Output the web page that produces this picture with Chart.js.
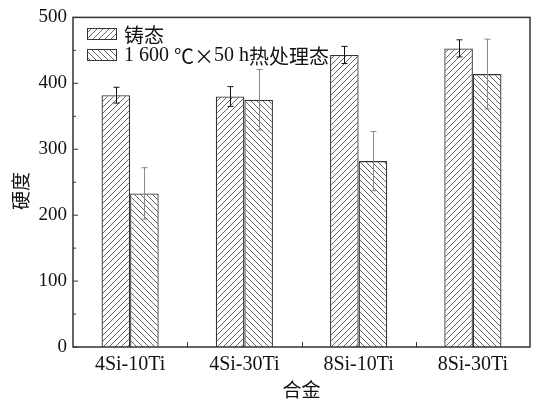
<!DOCTYPE html>
<html>
<head>
<meta charset="utf-8">
<script src="https://cdn.jsdelivr.net/npm/chart.js@4/dist/chart.umd.min.js"></script>
<style>
  html, body { margin: 0; padding: 0; background: #fff; }
  #wrap { width: 536px; height: 400px; position: relative; }
</style>
</head>
<body>
<div id="wrap"><canvas id="c" width="536" height="400"></canvas></div>
<script>
// Hardness of the alloys, as cast and after 1600 °C × 50 h heat treatment
const alloys = ['4Si-10Ti', '4Si-30Ti', '8Si-10Ti', '8Si-30Ti'];
const castHardness = [382, 380, 443, 453];
const castError = [12, 15, 13, 13];
const heatHardness = [233, 375, 282, 414];
const heatError = [39, 46, 45, 53];
const seriesNames = ['铸态', '1 600 ℃×50 h热处理态'];
const yTicks = [0, 100, 200, 300, 400, 500];
const yMinorTicks = [50, 150, 250, 350, 450];
const xTitle = '合金';
const yTitle = '硬度';

const SERIF = '"Liberation Serif", serif';
const CJK = '"Noto Sans CJK SC", sans-serif';
const FONT = '"Liberation Serif", "Noto Sans CJK SC", serif';
const EDGE = '#333';

// diagonal hatch tiles: '/' for cast, '\' for heat treated
function hatch(dir) {
  const s = 6;
  const cv = document.createElement('canvas');
  cv.width = s; cv.height = s;
  const g = cv.getContext('2d');
  g.fillStyle = '#fff';
  g.fillRect(0, 0, s, s);
  g.strokeStyle = '#555';
  g.lineWidth = 0.9;
  g.beginPath();
  if (dir === '/') {
    g.moveTo(-1, s + 1); g.lineTo(s + 1, -1);
    g.moveTo(-1, 1); g.lineTo(1, -1);
    g.moveTo(s - 1, s + 1); g.lineTo(s + 1, s - 1);
  } else {
    g.moveTo(-1, -1); g.lineTo(s + 1, s + 1);
    g.moveTo(s - 1, -1); g.lineTo(s + 1, 1);
    g.moveTo(-1, s - 1); g.lineTo(1, s + 1);
  }
  g.stroke();
  return g.createPattern(cv, 'repeat');
}
const patCast = hatch('/');
const patHeat = hatch('\\');

const errors = [castError, heatError];
const errColors = ['#111', '#888'];

// mixed-script text: Latin in serif, wide symbols and Hanzi in the CJK face
function drawMixed(ctx, text, x, y, size) {
  let cx = x;
  for (const ch of text) {
    const wide = ch.charCodeAt(0) > 0xff || ch === '×';
    ctx.font = size + 'px ' + (wide ? CJK : SERIF);
    ctx.fillText(ch, cx, y);
    cx += ctx.measureText(ch).width;
  }
}

const decor = {
  id: 'decor',
  afterDatasetsDraw(chart) {
    const ctx = chart.ctx;
    const ys = chart.scales.y, xs = chart.scales.x;
    const a = chart.chartArea;
    ctx.save();
    // error bars
    chart.data.datasets.forEach((ds, di) => {
      const meta = chart.getDatasetMeta(di);
      ctx.strokeStyle = errColors[di];
      ctx.lineWidth = 1;
      meta.data.forEach((el, i) => {
        const v = ds.data[i], e = errors[di][i];
        const x = Math.round(el.x) + 0.5;
        const yt = ys.getPixelForValue(v + e);
        const yb = ys.getPixelForValue(v - e);
        ctx.beginPath();
        ctx.moveTo(x, yt); ctx.lineTo(x, yb);
        ctx.moveTo(x - 3, yt); ctx.lineTo(x + 3, yt);
        ctx.moveTo(x - 3, yb); ctx.lineTo(x + 3, yb);
        ctx.stroke();
      });
    });
    // frame
    ctx.strokeStyle = EDGE;
    ctx.lineWidth = 1.5;
    ctx.strokeRect(a.left, a.top, a.right - a.left, a.bottom - a.top);
    // inward ticks
    ctx.lineWidth = 1;
    ctx.beginPath();
    yTicks.forEach(v => {
      const y = ys.getPixelForValue(v);
      ctx.moveTo(a.left, y); ctx.lineTo(a.left + 5, y);
    });
    yMinorTicks.forEach(v => {
      const y = ys.getPixelForValue(v);
      ctx.moveTo(a.left, y); ctx.lineTo(a.left + 3, y);
    });
    for (let i = 0; i < alloys.length - 1; i++) {
      const x = Math.round((xs.getPixelForValue(i) + xs.getPixelForValue(i + 1)) / 2) + 0.5;
      ctx.moveTo(x, a.bottom); ctx.lineTo(x, a.bottom - 5);
    }
    ctx.stroke();
    // legend
    const pats = [patCast, patHeat];
    const rowsY = [34, 55];
    ctx.textBaseline = 'middle';
    ctx.textAlign = 'left';
    seriesNames.forEach((name, i) => {
      const y0 = rowsY[i] - 6;
      ctx.fillStyle = pats[i];
      ctx.fillRect(87, y0, 30, 12);
      ctx.strokeStyle = EDGE;
      ctx.lineWidth = 1;
      ctx.strokeRect(87.5, y0 + 0.5, 29, 11);
      ctx.fillStyle = '#111';
      drawMixed(ctx, name, 124, rowsY[i] + 1, 20);
    });
    // axis titles
    ctx.font = '19px ' + CJK;
    ctx.textAlign = 'center';
    ctx.fillText(xTitle, (a.left + a.right) / 2, 390);
    ctx.save();
    ctx.translate(21, 191);
    ctx.rotate(-Math.PI / 2);
    ctx.fillText(yTitle, 0, 0);
    ctx.restore();
    ctx.restore();
  }
};

new Chart(document.getElementById('c'), {
  type: 'bar',
  data: {
    labels: alloys,
    datasets: [
      { label: seriesNames[0], data: castHardness, backgroundColor: patCast, borderColor: EDGE, borderWidth: 1.3 },
      { label: seriesNames[1], data: heatHardness, backgroundColor: patHeat, borderColor: EDGE, borderWidth: 1.3 }
    ]
  },
  options: {
    responsive: false,
    animation: false,
    devicePixelRatio: 1,
    layout: { padding: { left: 0, top: 15, right: 6, bottom: 0 } },
    datasets: { bar: { categoryPercentage: 0.5, barPercentage: 1.0 } },
    plugins: { legend: { display: false }, tooltip: { enabled: false } },
    scales: {
      x: {
        grid: { display: false, drawTicks: false },
        border: { display: false },
        ticks: { color: '#111', font: { family: FONT, size: 20 }, padding: 6 },
        afterFit(s) { s.height = 53; }
      },
      y: {
        min: 0, max: 500,
        afterBuildTicks(s) { s.ticks = yTicks.map(v => ({ value: v })); },
        grid: { display: false, drawTicks: false },
        border: { display: false },
        ticks: { color: '#111', font: { family: FONT, size: 19 }, padding: 6 },
        afterFit(s) { s.width = 73; }
      }
    }
  },
  plugins: [decor]
});
</script>
</body>
</html>
